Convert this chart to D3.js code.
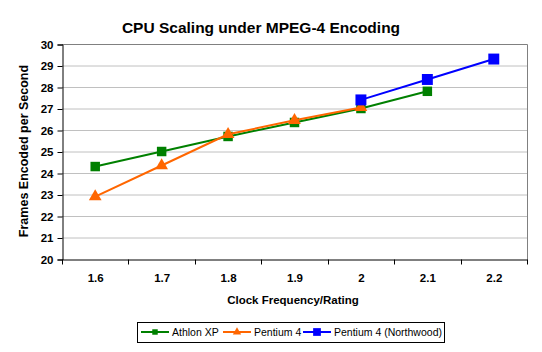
<!DOCTYPE html>
<html>
<head>
<meta charset="utf-8">
<script src="https://cdn.jsdelivr.net/npm/d3@7"></script>
<style>
  body { margin: 0; background: #fff; }
  text { font-family: Arial, "Liberation Sans", sans-serif; }
</style>
</head>
<body>
<svg></svg>
<script>
const width = 542;
const height = 352;

const clocks = ["1.6", "1.7", "1.8", "1.9", "2", "2.1", "2.2"];
const athlonXP = [24.3, 25.0, 25.7, 26.35, 27.0, 27.8, null];
const pentium4 = [22.9, 24.35, 25.8, 26.45, 27.05, null, null];
const northwood = [null, null, null, null, 27.4, 28.35, 29.3];
const yTicks = [20, 21, 22, 23, 24, 25, 26, 27, 28, 29, 30];

const plotLeft = 62, plotRight = 527, plotTop = 44, plotBottom = 259;

let svg = d3.select("svg").attr("width", width).attr("height", height);

let x = d3.scaleBand().domain(clocks).range([plotLeft, plotRight]);
let y = d3.scaleLinear().domain([20, 30]).range([plotBottom, plotTop]);

// gridlines
svg.append("g").selectAll("line").data(yTicks.slice(1, -1)).join("line")
    .attr("x1", plotLeft).attr("x2", plotRight)
    .attr("y1", d => y(d) + 0.5).attr("y2", d => y(d) + 0.5)
    .attr("stroke", "#c0c0c0").attr("stroke-width", 1);

// plot border (top, right)
svg.append("path")
    .attr("d", `M${plotLeft},${plotTop + 0.5}H${plotRight + 0.5}V${plotBottom}`)
    .attr("fill", "none").attr("stroke", "#808080");

// y axis
let yAxis = svg.append("g").attr("transform", `translate(${plotLeft + 0.5},0.5)`)
    .call(d3.axisLeft(y).tickValues(yTicks).tickSize(5).tickPadding(4).tickFormat(d3.format("d")));
yAxis.selectAll("text").attr("font-size", 11.5).attr("font-weight", "bold").attr("fill", "#000");
yAxis.selectAll("line, path").attr("stroke", "#000");

// x axis
let xAxis = svg.append("g").attr("transform", `translate(0.5,${plotBottom + 0.5})`)
    .call(d3.axisBottom(x).tickSize(0).tickPadding(14));
xAxis.selectAll("text").attr("font-size", 11.5).attr("font-weight", "bold").attr("fill", "#000");
xAxis.select("path").attr("stroke", "#000");
xAxis.append("g").selectAll("line").data(clocks.concat(["end"])).join("line")
    .attr("x1", (d, i) => Math.round(plotLeft + i * x.step())).attr("x2", (d, i) => Math.round(plotLeft + i * x.step()))
    .attr("y1", 0).attr("y2", 5).attr("stroke", "#000");

// titles
svg.append("text").attr("x", 261).attr("y", 33).attr("text-anchor", "middle")
    .attr("font-size", 15.5).attr("font-weight", "bold").text("CPU Scaling under MPEG-4 Encoding");
svg.append("text").attr("x", 293).attr("y", 304).attr("text-anchor", "middle")
    .attr("font-size", 11.5).attr("font-weight", "bold").text("Clock Frequency/Rating");
svg.append("text").attr("transform", `translate(28,151) rotate(-90)`)
    .attr("text-anchor", "middle").attr("font-size", 12.5).attr("font-weight", "bold")
    .text("Frames Encoded per Second");

const series = [
    { name: "Athlon XP", values: athlonXP, color: "#008000", shape: d3.symbolSquare, size: 90 },
    { name: "Pentium 4", values: pentium4, color: "#ff6600", shape: d3.symbolTriangle, size: 70 },
    { name: "Pentium 4 (Northwood)", values: northwood, color: "#0000ff", shape: d3.symbolSquare, size: 120 }
];

const line = d3.line()
    .defined(d => d.v != null)
    .x(d => x(d.c) + x.bandwidth() / 2)
    .y(d => y(d.v));

series.forEach(s => {
    let pts = clocks.map((c, i) => ({ c: c, v: s.values[i] }));
    svg.append("path").attr("d", line(pts)).attr("fill", "none")
        .attr("stroke", s.color).attr("stroke-width", 2);
    svg.append("g").selectAll("path").data(pts.filter(d => d.v != null)).join("path")
        .attr("d", d3.symbol().type(s.shape).size(s.size))
        .attr("transform", d => `translate(${x(d.c) + x.bandwidth() / 2},${y(d.v)})`)
        .attr("fill", s.color);
});

// legend
let legend = svg.append("g");
legend.append("rect").attr("x", 137.5).attr("y", 322.5).attr("width", 307).attr("height", 20)
    .attr("fill", "#fff").attr("stroke", "#000");
const legendX = [141, 223, 303];
series.forEach((s, i) => {
    let g = legend.append("g").attr("transform", `translate(${legendX[i]},332)`);
    g.append("line").attr("x1", 0).attr("x2", 28).attr("stroke", s.color).attr("stroke-width", 2);
    g.append("path").attr("d", d3.symbol().type(s.shape).size(i === 2 ? 60 : 30))
        .attr("transform", "translate(14,0)").attr("fill", s.color);
    g.append("text").attr("x", 31).attr("y", 4).attr("font-size", 10.5).text(s.name);
});
</script>
</body>
</html>
